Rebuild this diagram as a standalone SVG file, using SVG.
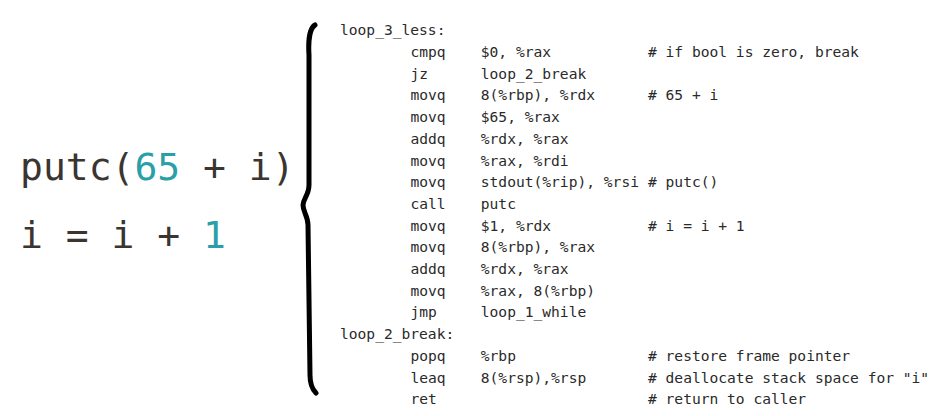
<svg xmlns="http://www.w3.org/2000/svg" width="934" height="416" viewBox="0 0 934 416">
<style>
.src{font-family:"DejaVu Sans Mono","Liberation Mono",monospace;font-size:38px;fill:#3a3530}
.num{fill:#2a9fa8}
.asm{font-family:"DejaVu Sans Mono","Liberation Mono",monospace;font-size:14.6px;fill:#2a2a2a}
.brace{fill:none;stroke:#000;stroke-width:5;stroke-linecap:round;stroke-linejoin:round}
</style>
<rect width="934" height="416" fill="#fff"/>
<g id="source">
<text class="src" x="20" y="180" xml:space="preserve">putc(<tspan class="num">65</tspan> + i)</text>
<text class="src" x="20" y="248" xml:space="preserve">i = i + <tspan class="num">1</tspan></text>
</g>
<g id="brace">
<path class="brace" d="M315,25 C310,28 308,40 309,55 L309,185 C309,195 303,199 303,205 C303,212 308,216 308,225 L310,375 C310,385 313,390 316,393"/>
</g>
<g id="assembly" class="asm">
<text x="340" y="35.3">loop_3_less:</text>
<text y="57"><tspan x="410.4">cmpq</tspan><tspan x="480.8">$0, %rax</tspan><tspan x="648">#&#160;if bool is zero, break</tspan></text>
<text y="78.7"><tspan x="410.4">jz</tspan><tspan x="480.8">loop_2_break</tspan></text>
<text y="100.4"><tspan x="410.4">movq</tspan><tspan x="480.8">8(%rbp), %rdx</tspan><tspan x="648">#&#160;65 + i</tspan></text>
<text y="122.1"><tspan x="410.4">movq</tspan><tspan x="480.8">$65, %rax</tspan></text>
<text y="143.8"><tspan x="410.4">addq</tspan><tspan x="480.8">%rdx, %rax</tspan></text>
<text y="165.5"><tspan x="410.4">movq</tspan><tspan x="480.8">%rax, %rdi</tspan></text>
<text y="187.2"><tspan x="410.4">movq</tspan><tspan x="480.8">stdout(%rip), %rsi</tspan><tspan x="648">#&#160;putc()</tspan></text>
<text y="208.9"><tspan x="410.4">call</tspan><tspan x="480.8">putc</tspan></text>
<text y="230.6"><tspan x="410.4">movq</tspan><tspan x="480.8">$1, %rdx</tspan><tspan x="648">#&#160;i = i + 1</tspan></text>
<text y="252.3"><tspan x="410.4">movq</tspan><tspan x="480.8">8(%rbp), %rax</tspan></text>
<text y="274"><tspan x="410.4">addq</tspan><tspan x="480.8">%rdx, %rax</tspan></text>
<text y="295.7"><tspan x="410.4">movq</tspan><tspan x="480.8">%rax, 8(%rbp)</tspan></text>
<text y="317.4"><tspan x="410.4">jmp</tspan><tspan x="480.8">loop_1_while</tspan></text>
<text x="340" y="339.1">loop_2_break:</text>
<text y="360.8"><tspan x="410.4">popq</tspan><tspan x="480.8">%rbp</tspan><tspan x="648">#&#160;restore frame pointer</tspan></text>
<text y="382.5"><tspan x="410.4">leaq</tspan><tspan x="480.8">8(%rsp),%rsp</tspan><tspan x="648">#&#160;deallocate stack space for "i"</tspan></text>
<text y="404.2"><tspan x="410.4">ret</tspan><tspan x="648">#&#160;return to caller</tspan></text>
</g>
</svg>
